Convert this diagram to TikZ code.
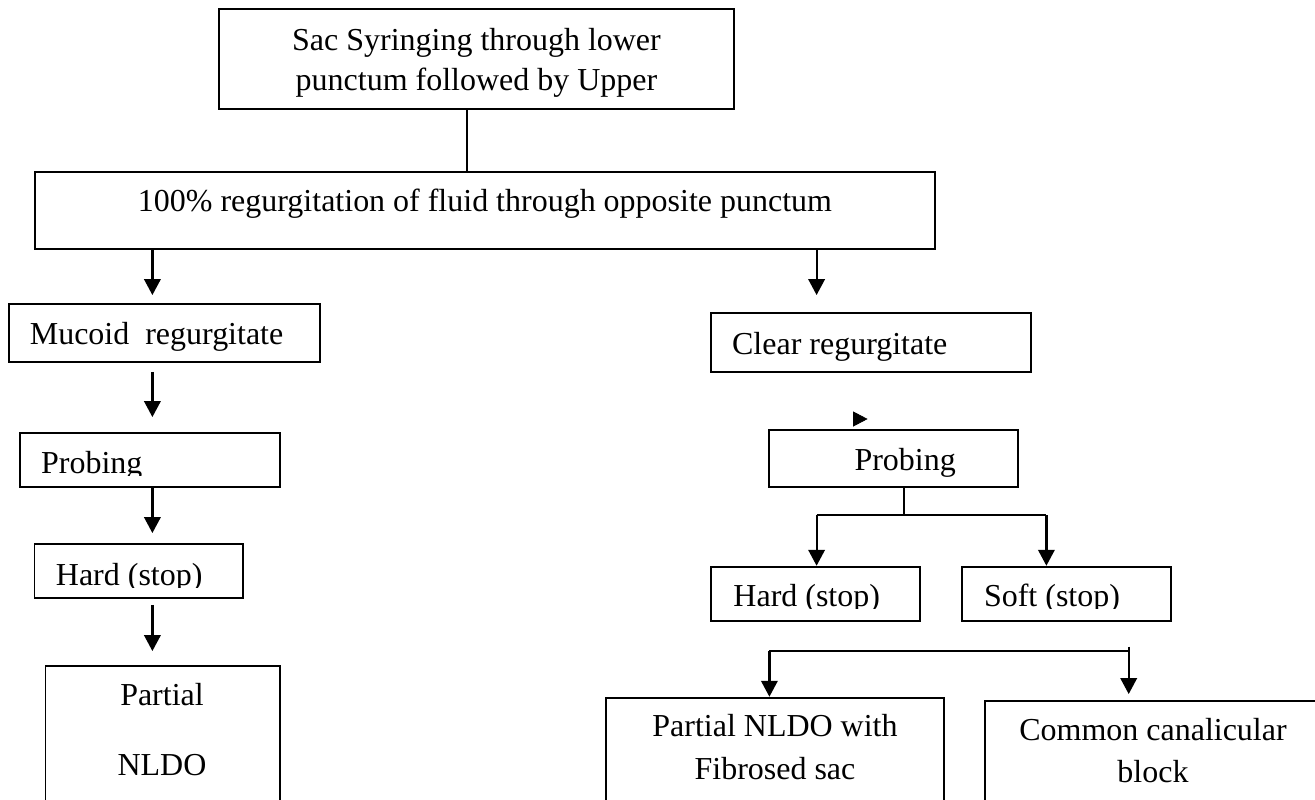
\documentclass[tikz,border=0pt]{standalone}
\usepackage{fontspec}
\setmainfont{Liberation Serif}
\usetikzlibrary{fit,arrows.meta}

\begin{document}
\begin{tikzpicture}[x=0.2mm, y=-0.2mm,
  box/.style={draw, line width=0.38mm, inner sep=0pt},
  lbl/.style={inner sep=0pt, font=\fontsize{18.2}{22.8}\selectfont},
  arr/.style={line width=0.44mm, -{Triangle[width=3.3mm,length=3.2mm]}}]
\useasboundingbox (0,0) rectangle (1315,799);
\clip (0,0) rectangle (1315,799);
%
% boxes
%
\node[box, fit={(219,9) (734,109)}] (syr) {};
\node[box, fit={(35,172) (935,249)}] (regurg) {};
\node[box, fit={(9,304) (320,362)}] (mucoid) {};
\node[box, fit={(20,433) (280,487)}] (lprobe) {};
\node[box, fit={(34.5,544) (243,598)}] (lhard) {};
\node[box, fit={(45.5,666) (280,830)}] (lpart) {};
\node[box, fit={(711,313) (1031,372)}] (clear) {};
\node[box, fit={(769.4,430) (1018,487)}] (rprobe) {};
\node[box, fit={(711,566.7) (920,620.7)}] (rhard) {};
\node[box, fit={(962,566.7) (1171,620.7)}] (soft) {};
\node[box, fit={(606,697.7) (944,830)}] (fibro) {};
\node[box, fit={(985,701) (1322,830)}] (common) {};
%
% texts (base of a two-line text is its last line)
%
\node[lbl, anchor=base, align=center] (syrT) at (476.5,90.7) {Sac Syringing through lower\\punctum followed by Upper};
\node[lbl, anchor=base] (regurgT) at (485,211.7) {100\% regurgitation of fluid through opposite punctum};
\node[lbl, anchor=base west] (mucoidT) at (29.5,344) {Mucoid\ \ regurgitate};
\begin{scope}
  \clip (lprobe.north west) rectangle (280,475);
  \node[lbl, anchor=base west] (lprobeT) at (40.8,473) {Probing};
\end{scope}
\begin{scope}
  \clip (lhard.north west) rectangle (243,587);
  \node[lbl, anchor=base west] (lhardT) at (55.6,585.7) {Hard (stop)};
\end{scope}
\node[lbl, anchor=base, align=center] (lpartT) at (162,775) {Partial\\[5.8mm]NLDO};
\node[lbl, anchor=base west] (clearT) at (731.8,354) {Clear regurgitate};
\node[lbl, anchor=base west] (rprobeT) at (854.2,470) {Probing};
\begin{scope}
  \clip (rhard.north west) rectangle (1171,608);
  \node[lbl, anchor=base west] (rhardT) at (733.1,606.7) {Hard (stop)};
  \node[lbl, anchor=base west] (softT) at (983.7,606.7) {Soft (stop)};
\end{scope}
\node[lbl, anchor=base, align=center] (fibroT) at (775,779) {Partial NLDO with\\[0.45mm]Fibrosed sac};
\node[lbl, anchor=base, align=center] (commonT) at (1153,782.7) {Common canalicular\\[0.5mm]block};
%
% connectors
%
\coordinate (xT) at (467,0);
\coordinate (xL) at (152.4,0);
\coordinate (xR) at (816.6,0);
\coordinate (tip) at (853,419);
\coordinate (sp) at (904.4,515);
\coordinate (spL) at (816.6,515);
\coordinate (spR) at (1046.4,515);
\coordinate (brL) at (769.4,650.7);
\coordinate (brR) at (1128.7,650.7);
%
\draw[line width=0.38mm] (syr.south -| xT) -- (regurg.north -| xT);
\draw[arr, shorten >=1.6mm] (regurg.south -| xL) -- (mucoid.north -| xL);
\draw[arr, shorten <=1.8mm, shorten >=3mm] (mucoid.south -| xL) -- (lprobe.north -| xL);
\draw[arr, shorten >=2mm] (lprobe.south -| xL) -- (lhard.north -| xL);
\draw[arr, shorten <=1.2mm, shorten >=2.8mm] (lhard.south -| xL) -- (lpart.north -| xL);
\draw[arr, shorten >=3.4mm] (regurg.south -| xR) -- (clear.north -| xR);
\draw[-{Triangle[width=3mm,length=2.9mm]}] (tip) -- ++(14.6,0);
%
\draw[line width=0.38mm] (rprobe.south -| sp) -- (sp);
\draw[line width=0.38mm] (spL) -- (spR);
\draw[arr] (spL) -- (rhard.north -| spL);
\draw[arr] (spR) -- (soft.north -| spR);
%
\draw[line width=0.38mm] (brL) -- (brR);
\draw[arr] (brL) -- (fibro.north -| brL);
\draw[arr, shorten >=1.2mm] ([yshift=0.8mm]brR) -- (common.north -| brR);
\end{tikzpicture}
\end{document}
